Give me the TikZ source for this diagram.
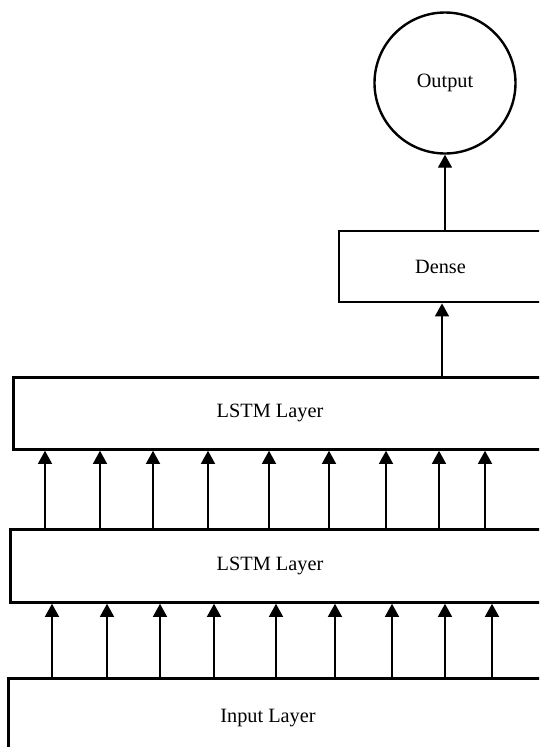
\documentclass[tikz,border=0pt]{standalone}
\usepackage{fontspec}
\setmainfont{Liberation Serif}
\usetikzlibrary{arrows.meta}

\tikzset{
  layer/.style={draw, line width=2.8pt, rectangle, inner sep=0pt, anchor=north west},
  neuron/.style={draw, line width=2.4pt, circle, inner sep=0pt, minimum size=141pt},
  flow/.style={-{Triangle[length=13pt,width=14pt]}, line width=1.4pt},
  lbl/.style={font=\fontsize{20.3}{24}\selectfont}
}

\begin{document}
\begin{tikzpicture}[x=1pt,y=-1pt]
  \useasboundingbox (0,0) rectangle (539,747);
  \clip (0,0) rectangle (539,747);
  % layers
  \node[layer, minimum width=560pt, minimum height=110pt] (inp) at (7,677) {};
  \node[layer, minimum width=560pt, minimum height=73pt] (lstma) at (9,528) {};
  \node[layer, minimum width=560pt, minimum height=72pt] (lstmb) at (12,376) {};
  \node[layer, anchor=center, minimum width=203pt, minimum height=71pt, lbl] (dense) at (440.5,266.5) {Dense};
  \node[neuron, lbl] (out) at (445,83) {Output};
  \node[lbl] (inptxt) at (268,718) {Input Layer};
  \node[lbl] (lstmatxt) at (270,566) {LSTM Layer};
  \node[lbl] (lstmbtxt) at (270,413) {LSTM Layer};
  % connections
  \foreach \x in {52,107,160,214,276,335,392,445,492}
    \draw[flow] (\x,0 |- inp.north) -- (\x,0 |- lstma.south);
  \foreach \x in {45,100,153,208,269,329,386,439,485}
    \draw[flow] (\x,0 |- lstma.north) -- (\x,0 |- lstmb.south);
  \draw[flow] (442,0 |- lstmb.north) -- (442,0 |- dense.south);
  \draw[flow] (445,0 |- dense.north) -- (out.south);
\end{tikzpicture}
\end{document}
